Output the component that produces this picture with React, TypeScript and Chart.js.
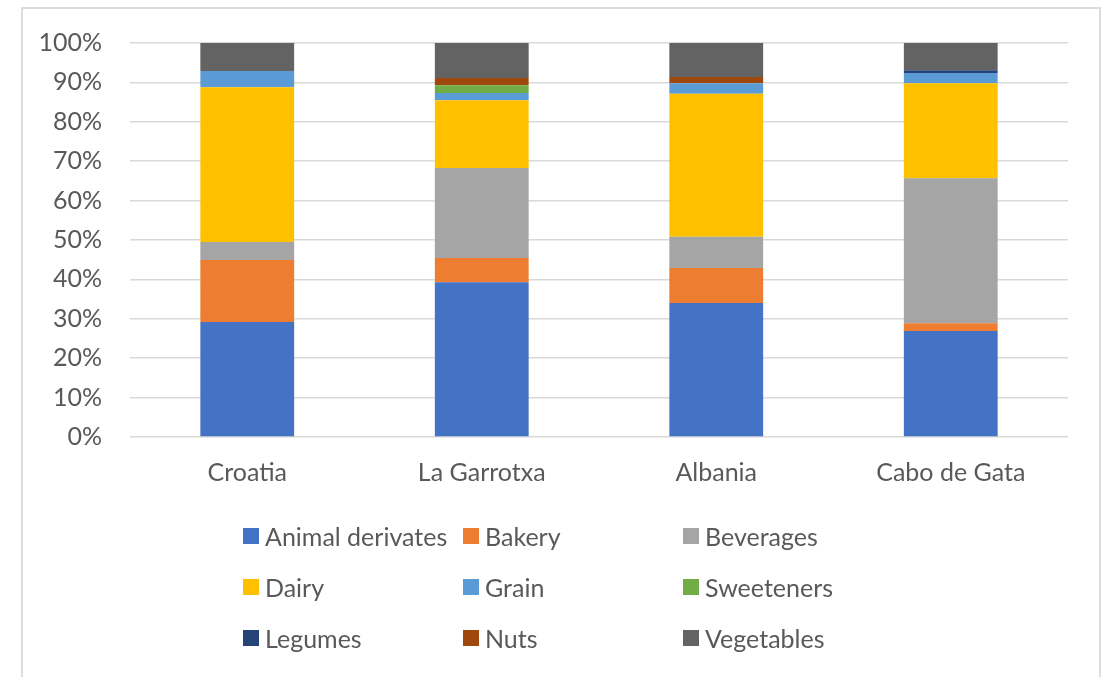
import React, { useEffect, useRef } from "react";
import { Chart, registerables } from "chart.js";

Chart.register(...registerables);

const categories = ["Croatia", "La Garrotxa", "Albania", "Cabo de Gata"];
const seriesNames = [
  "Animal derivates",
  "Bakery",
  "Beverages",
  "Dairy",
  "Grain",
  "Sweeteners",
  "Legumes",
  "Nuts",
  "Vegetables",
];
const animalDerivates = [29.2, 39.3, 34.0, 26.9];
const bakery = [15.7, 6.1, 8.9, 2.0];
const beverages = [4.6, 22.9, 7.9, 36.8];
const dairy = [39.3, 17.2, 36.3, 24.1];
const grain = [4.1, 1.8, 2.7, 2.6];
const sweeteners = [0, 2.0, 0, 0];
const legumes = [0, 0, 0, 0.7];
const nuts = [0, 1.8, 1.6, 0];
const vegetables = [7.1, 8.9, 8.6, 6.9];
const seriesValues = [
  animalDerivates,
  bakery,
  beverages,
  dairy,
  grain,
  sweeteners,
  legumes,
  nuts,
  vegetables,
];
const colors = [
  "#4472C4",
  "#ED7D31",
  "#A5A5A5",
  "#FFC000",
  "#5B9BD5",
  "#70AD47",
  "#264478",
  "#9E480E",
  "#636363",
];
const yTicks = [0, 10, 20, 30, 40, 50, 60, 70, 80, 90, 100];

const FONT = "Lato, 'Open Sans', sans-serif";
const TEXT = "#595959";
const FS = 25;

export default function App() {
  const ref = useRef<HTMLCanvasElement | null>(null);

  useEffect(() => {
    if (!ref.current) return;
    const chart = new Chart(ref.current, {
      type: "bar",
      data: {
        labels: categories,
        datasets: seriesNames.map((name, i) => ({
          label: name,
          data: seriesValues[i],
          backgroundColor: colors[i],
          borderWidth: 0,
          categoryPercentage: 1,
          barPercentage: 0.4,
        })),
      },
      options: {
        responsive: false,
        animation: false,
        layout: { padding: { left: 22, top: 43, right: 39, bottom: 180 } },
        plugins: {
          legend: { display: false },
          tooltip: { enabled: false },
        },
        scales: {
          x: {
            stacked: true,
            grid: { display: false, drawTicks: false },
            border: { display: false },
            ticks: {
              color: TEXT,
              font: { family: FONT, size: FS },
              padding: 21,
            },
            afterFit: (s: any) => {
              s.height = 60;
            },
          },
          y: {
            stacked: true,
            min: 0,
            max: 100,
            grid: { color: "#d9d9d9", lineWidth: 1.5, drawTicks: false },
            border: { display: false },
            afterBuildTicks: (s: any) => {
              s.ticks = yTicks.map((v) => ({ value: v }));
            },
            ticks: {
              color: TEXT,
              font: { family: FONT, size: FS },
              padding: 28,
              callback: (v: any) => v + "%",
            },
            afterFit: (s: any) => {
              s.width = 108;
            },
          },
        },
      },
    });
    return () => chart.destroy();
  }, []);

  return (
    <div
      style={{
        position: "absolute",
        left: 0,
        top: 0,
        width: 1107,
        height: 677,
        overflow: "hidden",
        background: "#fff",
        fontFamily: FONT,
      }}
    >
      <div
        style={{
          position: "absolute",
          left: 21,
          top: 7,
          width: 1080,
          height: 700,
          border: "2px solid #dcdcdc",
          boxSizing: "border-box",
        }}
      />
      <canvas
        ref={ref}
        width={1107}
        height={677}
        style={{ position: "absolute", left: 0, top: 0, width: 1107, height: 677 }}
      />
      {seriesNames.map((name, i) => {
        const col = i % 3;
        const row = Math.floor(i / 3);
        return (
          <div
            key={name}
            style={{
              position: "absolute",
              left: 243 + col * 220,
              top: 536 + row * 51 - 15,
              height: 30,
              display: "flex",
              alignItems: "center",
              whiteSpace: "nowrap",
              color: TEXT,
              fontSize: FS,
            }}
          >
            <span
              style={{
                display: "inline-block",
                width: 16,
                height: 16,
                background: colors[i],
                marginRight: 6,
              }}
            />
            <span>{name}</span>
          </div>
        );
      })}
    </div>
  );
}
